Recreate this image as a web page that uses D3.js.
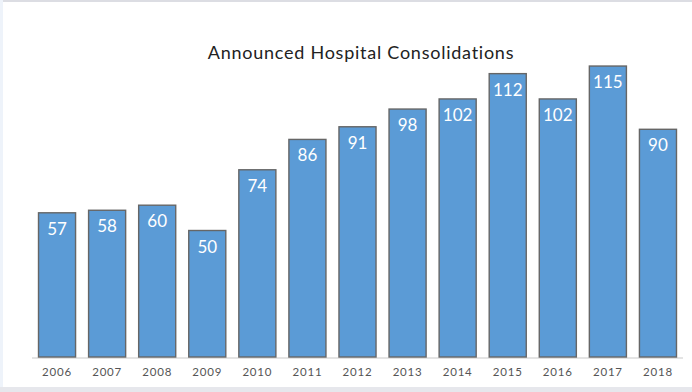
<!doctype html>
<meta charset="utf-8">
<title>Announced Hospital Consolidations</title>
<style>
body, html {
  margin: 0;
  width: 692px;
  height: 392px;
  overflow: hidden;
  background: #fff;
}
svg { display: block; }
</style>
<script src="https://cdn.jsdelivr.net/npm/d3@7"></script>
<div id="chart"></div>
<script>
var years = ["2006","2007","2008","2009","2010","2011","2012","2013","2014","2015","2016","2017","2018"];
var deals = [57, 58, 60, 50, 74, 86, 91, 98, 102, 112, 102, 115, 90];

var width = 692, height = 392;
var font = "Lato, 'Open Sans', sans-serif";

var svg = d3.select("#chart").append("svg")
    .attr("width", width)
    .attr("height", height);

// page frame: top rule, left strip, bottom band
svg.append("rect").attr("x", 0).attr("y", 0).attr("width", width).attr("height", 2).attr("fill", "#dcdde3");
svg.append("rect").attr("x", 0).attr("y", 0).attr("width", 3).attr("height", height).attr("fill", "#eef3fa");
svg.append("rect").attr("x", 0).attr("y", 387).attr("width", width).attr("height", 5).attr("fill", "#e6e7ec");

var x = d3.scaleBand()
    .domain(years)
    .range([32, 683])
    .paddingInner(0.26)
    .paddingOuter(0.13);

var y = d3.scaleLinear()
    .domain([0, 120])
    .range([357, 53.4]);

svg.append("text")
    .attr("x", 361)
    .attr("y", 59)
    .attr("text-anchor", "middle")
    .attr("font-family", font)
    .attr("font-size", 18)
    .attr("letter-spacing", 0.75)
    .attr("fill", "#222")
    .text("Announced Hospital Consolidations");

// baseline
svg.append("line")
    .attr("x1", 32).attr("x2", 683)
    .attr("y1", y(0) + 1).attr("y2", y(0) + 1)
    .attr("stroke", "#e4e4e4")
    .attr("stroke-width", 2);

svg.selectAll("rect.bar")
    .data(deals)
  .enter().append("rect")
    .attr("class", "bar")
    .attr("x", (d, i) => x(years[i]))
    .attr("y", d => y(d))
    .attr("width", x.bandwidth())
    .attr("height", d => y(0) - y(d))
    .attr("fill", "#5b9bd6")
    .attr("stroke", "#666")
    .attr("stroke-width", 1.4);

svg.selectAll("text.val")
    .data(deals)
  .enter().append("text")
    .attr("class", "val")
    .attr("x", (d, i) => x(years[i]) + x.bandwidth() / 2)
    .attr("y", d => y(d) + 22)
    .attr("text-anchor", "middle")
    .attr("font-family", font)
    .attr("font-size", 17)
    .attr("fill", "#fff")
    .text(d => d);

svg.selectAll("text.year")
    .data(years)
  .enter().append("text")
    .attr("class", "year")
    .attr("x", d => x(d) + x.bandwidth() / 2)
    .attr("y", 376)
    .attr("text-anchor", "middle")
    .attr("font-family", font)
    .attr("font-size", 11.5)
    .attr("letter-spacing", 0.8)
    .attr("fill", "#555")
    .text(d => d);
</script>
